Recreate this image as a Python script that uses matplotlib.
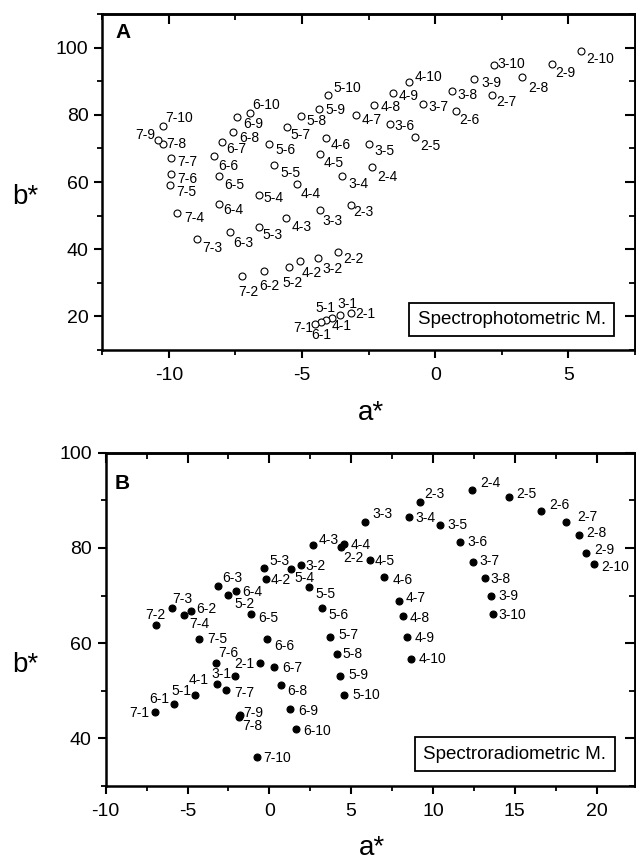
import matplotlib
matplotlib.use("Agg")
import matplotlib.pyplot as plt
from matplotlib.ticker import MultipleLocator

plt.rcParams['font.family'] = ['Liberation Sans', 'DejaVu Sans']
plt.rcParams['axes.unicode_minus'] = False

# sample series 2..7, each measured at levels 1..10
series = [2, 3, 4, 5, 6, 7]

# (A) spectrophotometric measurement
a_photo = [
    [-3.15, -3.65, -3.18, -2.36, -0.76, 0.77, 2.12, 3.26, 4.39, 5.46],
    [-3.56, -4.41, -4.34, -3.49, -2.50, -1.69, -0.44, 0.62, 1.47, 2.20],
    [-3.88, -5.09, -5.59, -5.20, -4.34, -4.11, -2.99, -2.30, -1.58, -1.00],
    [-4.09, -5.49, -6.63, -6.61, -6.05, -6.24, -5.55, -5.05, -4.36, -4.01],
    [-4.30, -6.43, -7.72, -8.11, -8.10, -8.29, -8.02, -7.60, -7.44, -6.96],
    [-4.53, -7.27, -8.95, -9.69, -9.96, -9.91, -9.91, -10.22, -10.42, -10.22],
]
b_photo = [
    [21.0, 39.2, 53.3, 64.5, 73.5, 81.0, 85.8, 91.2, 95.0, 99.1],
    [20.3, 37.4, 51.8, 61.8, 71.2, 77.4, 83.3, 87.2, 90.6, 94.7],
    [19.5, 36.5, 49.3, 59.5, 68.2, 73.1, 79.9, 82.9, 86.6, 89.9],
    [18.8, 34.7, 46.7, 56.2, 65.0, 71.2, 76.3, 79.6, 81.6, 85.8],
    [18.3, 33.6, 45.2, 53.6, 61.8, 67.8, 71.9, 74.8, 79.2, 80.4],
    [17.8, 31.9, 43.1, 50.9, 59.1, 62.3, 67.0, 71.4, 72.6, 76.6],
]

# (B) spectroradiometric measurement
a_radio = [
    [-0.59, 4.37, 9.22, 12.40, 14.66, 16.63, 18.12, 18.91, 19.36, 19.87],
    [-2.12, 1.93, 5.84, 8.55, 10.44, 11.66, 12.46, 13.17, 13.56, 13.68],
    [-3.22, -0.19, 2.64, 4.58, 6.16, 7.04, 7.90, 8.16, 8.42, 8.69],
    [-4.56, -2.51, -0.31, 1.30, 2.40, 3.24, 3.72, 4.15, 4.29, 4.56],
    [-5.85, -4.81, -3.16, -2.06, -1.14, -0.13, 0.28, 0.73, 1.28, 1.63],
    [-6.99, -6.91, -5.97, -5.22, -4.28, -3.28, -2.65, -1.84, -1.80, -0.78],
]
b_radio = [
    [55.8, 80.1, 89.6, 92.2, 90.8, 87.8, 85.4, 82.7, 79.0, 76.6],
    [53.2, 76.4, 85.4, 86.4, 84.9, 81.3, 77.0, 73.7, 70.0, 66.1],
    [51.4, 73.5, 80.6, 80.8, 77.5, 74.0, 68.8, 65.8, 61.3, 56.7],
    [49.1, 70.2, 75.8, 75.6, 71.8, 67.3, 61.2, 57.7, 53.1, 49.1],
    [47.2, 66.8, 72.1, 71.0, 66.1, 60.9, 54.9, 51.2, 46.1, 42.0],
    [45.5, 63.9, 67.3, 65.9, 60.8, 55.9, 50.2, 44.4, 44.9, 36.1],
]

# label placement in pixels: (dx, dy down, horizontal alignment)
offs_photo = {
    '7-10': (2, -9), '7-9': (-2, -6, 'right'), '7-8': (3, -1), '7-7': (6, 3), '7-6': (6, 4),
    '7-5': (6, 6), '7-4': (7, 4), '7-3': (5, 8), '7-2': (-3, 15), '7-1': (-1, 3, 'right'),
    '6-10': (2, -9), '6-9': (6, 6), '6-8': (6, 5), '6-7': (5, 6), '6-6': (4, 9),
    '6-5': (5, 8), '6-4': (4, 5), '6-3': (4, 10), '6-2': (-5, 14), '6-1': (-9, 12),
    '5-10': (5, -8), '5-9': (6, 0), '5-8': (6, 4), '5-7': (3, 7), '5-6': (6, 5),
    '5-5': (6, 7), '5-4': (4, 2), '5-3': (4, 7), '5-2': (-7, 15), '5-1': (-11, -13),
    '4-10': (6, -6), '4-9': (5, 2), '4-8': (7, 1), '4-7': (6, 4), '4-6': (5, 6),
    '4-5': (4, 8), '4-4': (4, 9), '4-3': (5, 8), '4-2': (2, 11), '4-1': (0, 7),
    '3-10': (4, -2), '3-9': (7, 3), '3-8': (6, 3), '3-7': (5, 2), '3-6': (4, 1),
    '3-5': (6, 6), '3-4': (6, 7), '3-3': (3, 10), '3-2': (5, 10), '3-1': (-3, -12),
    '2-10': (6, 7), '2-9': (3, 8), '2-8': (6, 10), '2-7': (5, 6), '2-6': (4, 8),
    '2-5': (5, 8), '2-4': (5, 9), '2-3': (3, 6), '2-2': (5, 6), '2-1': (4, 0),
}
offs_radio = {
    '2-1': (-5, 0, 'right'), '2-2': (2, 10), '2-3': (4, -9), '2-4': (8, -8), '2-5': (7, -4),
    '2-6': (8, -7), '2-7': (11, -6), '2-8': (8, -3), '2-9': (8, -4), '2-10': (7, 2),
    '3-1': (-3, -3, 'right'), '3-2': (5, 0), '3-3': (8, -9), '3-4': (6, 0), '3-5': (7, -1),
    '3-6': (7, -1), '3-7': (6, -2), '3-8': (6, 0), '3-9': (7, -1), '3-10': (5, 0),
    '4-1': (-8, -5, 'right'), '4-2': (4, 0), '4-3': (6, -6), '4-4': (6, 0), '4-5': (5, 0),
    '4-6': (8, 2), '4-7': (7, -4), '4-8': (7, 1), '4-9': (8, 0), '4-10': (7, -1),
    '5-1': (-3, -5, 'right'), '5-2': (6, 8), '5-3': (5, -8), '5-4': (4, 8), '5-5': (7, 6),
    '5-6': (6, 6), '5-7': (8, -3), '5-8': (5, -1), '5-9': (9, -2), '5-10': (9, -1),
    '6-1': (-4, -6, 'right'), '6-2': (6, -3), '6-3': (5, -9), '6-4': (7, 0), '6-5': (8, 3),
    '6-6': (7, 6), '6-7': (8, 0), '6-8': (6, 5), '6-9': (8, 1), '6-10': (7, 1),
    '7-1': (-6, 0, 'right'), '7-2': (-11, -11), '7-3': (1, -10), '7-4': (5, 8), '7-5': (8, -1),
    '7-6': (3, -11), '7-7': (8, 2), '7-8': (3, 8), '7-9': (3, -3), '7-10': (7, 0),
}


def style_axes(ax, xlim, ylim, xmaj, ymaj):
    ax.set_xlim(*xlim)
    ax.set_ylim(*ylim)
    ax.xaxis.set_major_locator(MultipleLocator(xmaj))
    ax.xaxis.set_minor_locator(MultipleLocator(xmaj / 2))
    ax.yaxis.set_major_locator(MultipleLocator(ymaj))
    ax.yaxis.set_minor_locator(MultipleLocator(ymaj / 2))
    for sp in ax.spines.values():
        sp.set_linewidth(1.8)
    ax.tick_params(which='major', direction='out', length=6, width=1.5, labelsize=14, pad=4)
    ax.tick_params(which='minor', direction='out', length=3.5, width=1.3)
    ax.tick_params(axis='x', pad=6)
    # mirrored ticks pointing inwards on top and right
    top = ax.secondary_xaxis('top')
    top.xaxis.set_major_locator(MultipleLocator(xmaj))
    top.xaxis.set_minor_locator(MultipleLocator(xmaj / 2))
    top.tick_params(which='major', direction='in', length=7, width=1.5, labeltop=False)
    top.tick_params(which='minor', direction='in', length=4, width=1.3)
    right = ax.secondary_yaxis('right')
    right.yaxis.set_major_locator(MultipleLocator(ymaj))
    right.yaxis.set_minor_locator(MultipleLocator(ymaj / 2))
    right.tick_params(which='major', direction='in', length=7, width=1.5, labelright=False)
    right.tick_params(which='minor', direction='in', length=4, width=1.3)
    for sec in (top, right):
        for sp in sec.spines.values():
            sp.set_linewidth(1.8)


def draw_points(ax, avals, bvals, offs, filled):
    for s, xs, ys in zip(series, avals, bvals):
        ax.plot(xs, ys, linestyle='none', marker='o', markersize=5,
                markerfacecolor='black' if filled else 'white',
                markeredgecolor='black', markeredgewidth=0.8)
        for k, (x, y) in enumerate(zip(xs, ys), start=1):
            name = f"{s}-{k}"
            o = offs[name]
            ha = o[2] if len(o) > 2 else 'left'
            ax.annotate(name, (x, y), xytext=(o[0], -(o[1] + 5)),
                        textcoords='offset pixels', ha=ha, va='baseline',
                        fontsize=10)


fig = plt.figure(figsize=(6.36, 8.63), dpi=100)

axA = fig.add_axes([0.1608, 0.5944, 0.8376, 0.3894])
style_axes(axA, (-12.5, 7.5), (10, 110), 5, 20)
draw_points(axA, a_photo, b_photo, offs_photo, filled=False)
axA.text(0.024, 0.972, 'A', transform=axA.transAxes, fontsize=15,
         fontweight='bold', ha='left', va='top')
axA.text(0.769, 0.091, 'Spectrophotometric M.', transform=axA.transAxes,
         fontsize=13.5, ha='center', va='center',
         bbox=dict(boxstyle='square,pad=0.45', facecolor='white',
                   edgecolor='black', linewidth=1.3))

axB = fig.add_axes([0.1662, 0.0892, 0.8322, 0.3862])
style_axes(axB, (-10, 22.35), (30, 100), 5, 20)
draw_points(axB, a_radio, b_radio, offs_radio, filled=True)
axB.text(0.0176, 0.935, 'B', transform=axB.transAxes, fontsize=15,
         fontweight='bold', ha='left', va='top')
axB.text(0.773, 0.095, 'Spectroradiometric M.', transform=axB.transAxes,
         fontsize=13.5, ha='center', va='center',
         bbox=dict(boxstyle='square,pad=0.45', facecolor='white',
                   edgecolor='black', linewidth=1.3))

# axis titles
fig.text(25 / 636, 1 - 197 / 863, 'b*', fontsize=20, ha='center', va='center')
fig.text(371 / 636, 1 - 413 / 863, 'a*', fontsize=20, ha='center', va='center')
fig.text(25 / 636, 1 - 665 / 863, 'b*', fontsize=20, ha='center', va='center')
fig.text(372 / 636, 1 - 848 / 863, 'a*', fontsize=20, ha='center', va='center')

fig.savefig('out.png', dpi=100)
